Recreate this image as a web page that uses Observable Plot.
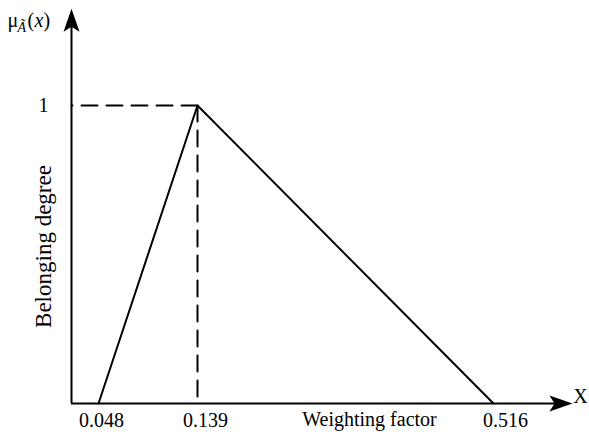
<!DOCTYPE html>
<html>
<head>
<meta charset="utf-8">
<script src="https://cdn.jsdelivr.net/npm/d3@7"></script>
<script src="https://cdn.jsdelivr.net/npm/@observablehq/plot@0.6"></script>
<style>
  html, body { margin: 0; padding: 0; background: #fff; }
</style>
</head>
<body>
<div id="chart"></div>
<script>
// Data
const xTicks = [0.048, 0.139, 0.516];           // triangle vertices (weighting factor)
const xTickLabels = ["0.048", "0.139", "0.516"];
const membership = [0, 1, 0];                   // belonging degree at each vertex
const yTicks = [1];
const yTickLabels = ["1"];
const axisXEnd = 0.6;    // end of the (arrowed) x axis, in data units
const axisYEnd = 1.325;  // end of the (arrowed) y axis, in data units

const points = xTicks.map((x, i) => ({x, y: membership[i]}));
const peak = points[1];

// Non-uniform (piecewise) x scale, as in the original figure
const xScale = {type: "linear", domain: [0, xTicks[0], xTicks[1], xTicks[2], axisXEnd], range: [71, 98, 197, 493, 572]};
const yScale = {type: "linear", domain: [0, 1], range: [403, 105]};

// filled "stealth" arrowhead pointing up with its tip at the anchor
const arrowHead = {
  draw(context) {
    context.moveTo(0, 0);
    context.lineTo(8, 23);
    context.lineTo(0, 18);
    context.lineTo(-8, 23);
    context.closePath();
  }
};

const serif = "'Liberation Serif', 'Times New Roman', serif";
const tickDx = [3, 8, 12];
const label = (txt, x, y, opts = {}) =>
  Plot.text([txt], {frameAnchor: "top-left", dx: x, dy: y, text: d => d, textAnchor: "middle", lineAnchor: "middle", fontSize: 20, fill: "black", ...opts});

const marks = [
  // axes
  Plot.ruleY([0], {x1: 0, x2: axisXEnd - 0.008, stroke: "black", strokeWidth: 2}),
  Plot.ruleX([0], {y1: 0, y2: axisYEnd - 0.025, stroke: "black", strokeWidth: 2}),
  Plot.dot([{x: 0, y: axisYEnd}], {x: "x", y: "y", symbol: arrowHead, fill: "black", stroke: "none", r: 5}),
  Plot.dot([{x: axisXEnd, y: 0}], {x: "x", y: "y", symbol: arrowHead, fill: "black", stroke: "none", r: 5, rotate: 90}),
  // dashed guides from the peak
  Plot.line([peak, {x: 0, y: peak.y}], {x: "x", y: "y", stroke: "black", strokeWidth: 2, strokeDasharray: "16,9"}),
  Plot.line([peak, {x: peak.x, y: 0}], {x: "x", y: "y", stroke: "black", strokeWidth: 2, strokeDasharray: "16,9"}),
  // membership triangle
  Plot.line(points, {x: "x", y: "y", stroke: "black", strokeWidth: 2, strokeLinejoin: "miter"}),
  // y tick label
  Plot.text(yTicks, {x: 0, y: d => d, text: (d, i) => yTickLabels[i], textAnchor: "end", lineAnchor: "middle", dx: -23, fontSize: 20, fill: "black"}),
  // x tick labels
  ...xTicks.map((t, i) => Plot.text([t], {x: d => d, y: 0, text: () => xTickLabels[i], textAnchor: "middle", lineAnchor: "middle", dx: tickDx[i], dy: 17, fontSize: 20, fill: "black"})),
  // axis titles
  label("Weighting factor", 369, 419),
  label("X", 580, 396),
  label("Belonging degree", 43, 246, {rotate: -90, fontSize: 23}),
  // μ_Ã(x)
  label("μ", 7, 20, {textAnchor: "start"}),
  label("Ã", 17, 27, {textAnchor: "start", fontSize: 14, fontStyle: "italic"}),
  label("(", 27, 20, {textAnchor: "start"}),
  label("x", 34, 20, {textAnchor: "start", fontStyle: "italic"}),
  label(")", 43, 20, {textAnchor: "start"})
];

const chart = Plot.plot({
  width: 589,
  height: 434,
  margin: 0,
  x: {...xScale, axis: null},
  y: {...yScale, axis: null},
  style: {fontFamily: serif, fontSize: "20px", background: "#fff", color: "black"},
  marks
});
document.getElementById("chart").appendChild(chart);
</script>
</body>
</html>
